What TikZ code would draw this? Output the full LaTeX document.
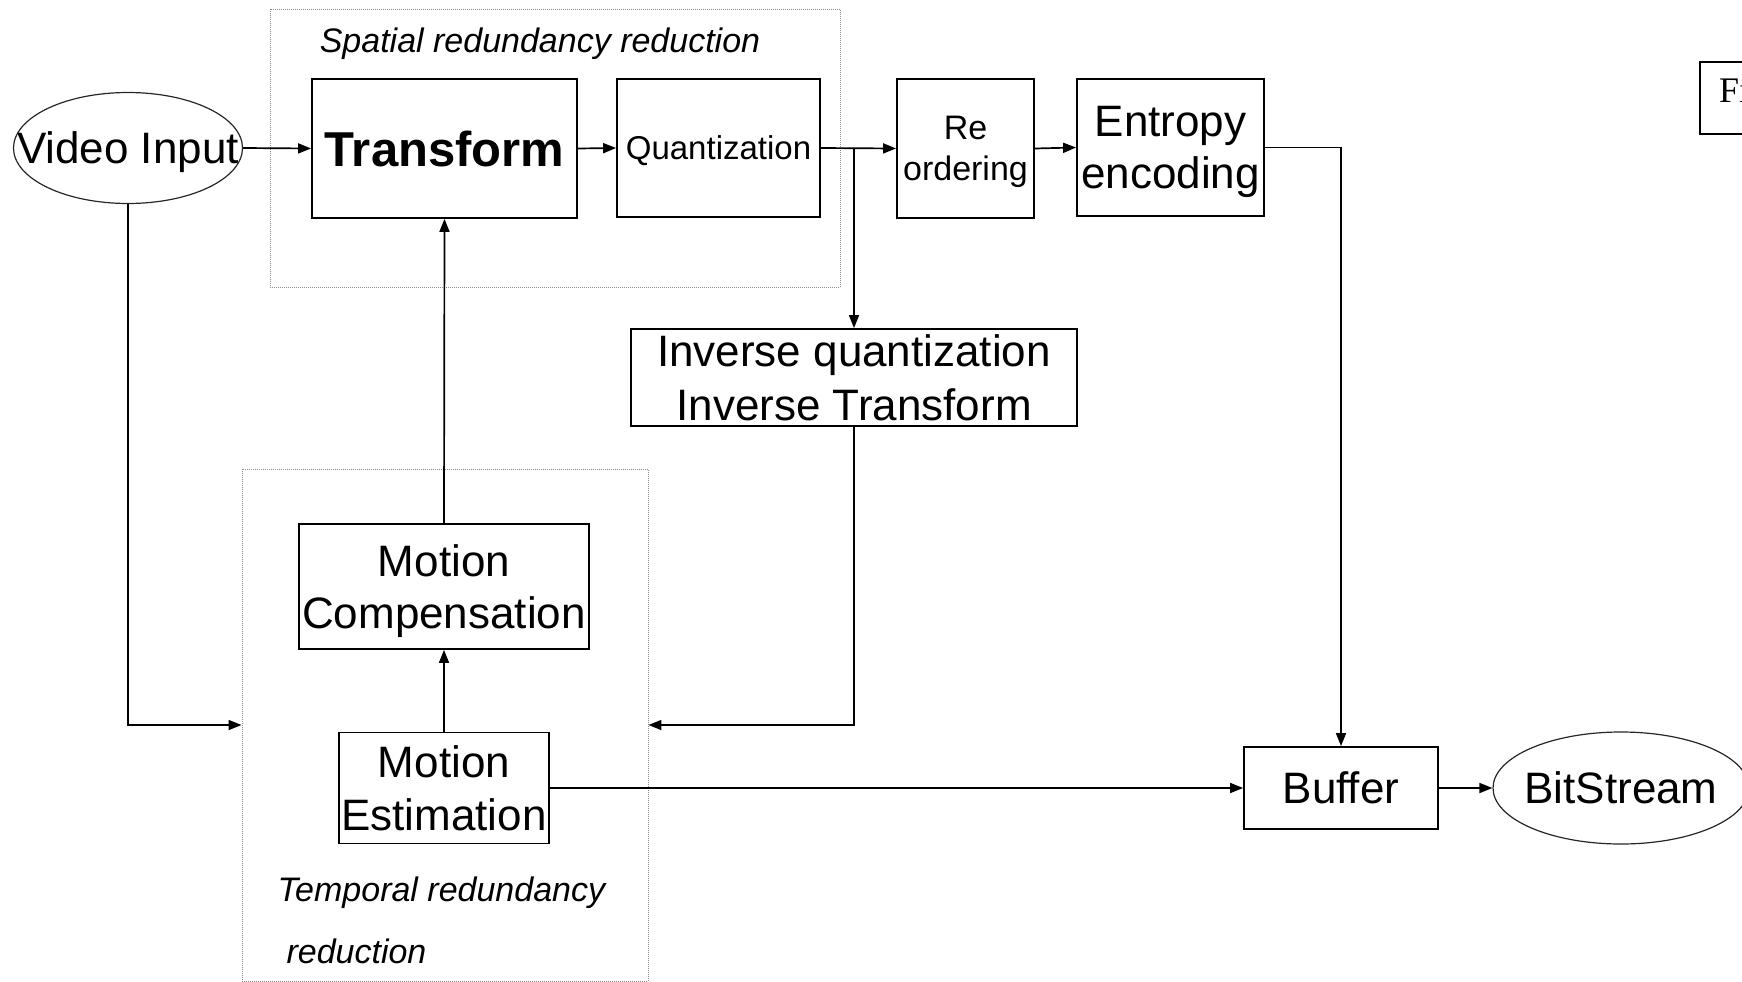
\documentclass[tikz,border=0pt]{standalone}
\usepackage{fontspec}
\setmainfont{Liberation Sans}
\newfontfamily\serifa{Liberation Serif}
\usetikzlibrary{arrows.meta,shapes.geometric}
\begin{document}
\begin{tikzpicture}[x=1pt,y=-1pt,
  box/.style={draw=black,line width=1.8pt,rectangle,inner sep=0pt,align=center,text depth=0pt},
  oval/.style={draw=black!85,line width=1.2pt,ellipse,inner sep=0pt,text depth=0pt},
  dotbox/.style={draw=black!45,line width=0.9pt,dash pattern=on 1pt off 1pt,rectangle,inner sep=0pt},
  arr/.style={line width=1.7pt,-{Triangle[length=13pt,width=10pt]}},
  big/.style={font=\fontsize{44}{52}\selectfont},
  mid/.style={font=\fontsize{34}{41}\selectfont},
  lab/.style={font=\fontsize{34}{40}\selectfont\itshape,text depth=0pt}
]
\useasboundingbox (0,0) rectangle (1742,982);
% dotted group boxes
\node[dotbox,minimum width=570,minimum height=278] (spatial) at (555,148) {};
\node[dotbox,minimum width=406,minimum height=512] (temporal) at (445,725) {};
\node[lab] (spatiallab) at (540,40) {Spatial redundancy reduction};
\node[lab,anchor=west] (templab1) at (274,889) {Temporal redundancy};
\node[lab,anchor=west] (templab2) at (283,951) {reduction};
% nodes
\node[oval,minimum width=229,minimum height=111,big] (vin) at (128,148) {\makebox[0pt]{Video Input}};
\node[box,minimum width=265,minimum height=139,font=\fontsize{49}{56}\selectfont\bfseries,text depth=] (trans) at (444.5,148.5) {Transform};
\node[box,minimum width=203,minimum height=138,font=\fontsize{33}{40}\selectfont] (quant) at (718.5,148) {Quantization};
\node[box,minimum width=137,minimum height=139,mid] (reord) at (965.5,148.5) {Re\\ordering};
\node[box,minimum width=187,minimum height=137,big] (entropy) at (1170.5,147.5) {Entropy\\encoding};
\node[box,minimum width=446,minimum height=97,font=\fontsize{44}{54}\selectfont,text depth=] (inv) at (854,377.5) {Inverse quantization\\Inverse Transform};
\node[box,minimum width=290,minimum height=125,big] (mc) at (444,586.5) {Motion\\Compensation};
\node[box,minimum width=210,minimum height=111,font=\fontsize{44}{53}\selectfont,text depth=] (me) at (444,788) {Motion\\Estimation};
\node[box,minimum width=194,minimum height=82,big] (buf) at (1341,788) {Buffer};
\node[oval,minimum width=256,minimum height=112,big,text depth=] (bits) at (1621,788) {\makebox[0pt]{BitStream}};
\node[box,minimum width=80,minimum height=72,anchor=north west] (fibox) at (1699,61) {};
\node[anchor=west,inner sep=0pt,font=\serifa\fontsize{36}{40}\selectfont] (fitext) at (1719,91) {Fi};
% connectors
\coordinate (br) at (inv.north |- quant.east);
\draw[arr] (vin.east) -- (trans.west);
\draw[arr] (trans.east) -- (quant.west);
\draw[arr] (quant.east) -- (reord.west);
\draw[arr] (reord.east) -- (entropy.west);
\draw[arr] (br) -- (inv.north);
\draw[arr] (entropy.east) -| (buf.north);
\draw[arr] (inv.south) |- (temporal.east);
\draw[arr] (vin.south) |- (temporal.west);
\draw[arr] (me.north) -- (mc.south);
\draw[arr] (mc.north) -- (trans.south);
\draw[arr] (me.east) -- (buf.west);
\draw[arr] (buf.east) -- (bits.west);
\end{tikzpicture}
\end{document}
